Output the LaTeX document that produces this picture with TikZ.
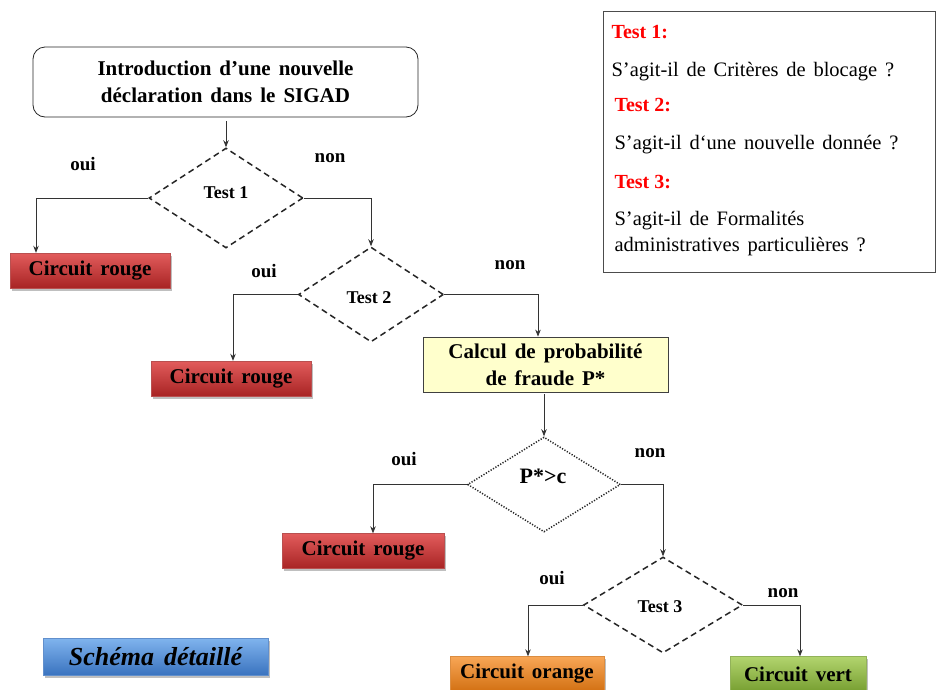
\documentclass[tikz,border=0pt]{standalone}
\usepackage{fontspec}
\setmainfont{Liberation Serif}
\usetikzlibrary{shapes.geometric,arrows.meta,shadows}

\definecolor{redT}{HTML}{E25C5C}
\definecolor{redM}{HTML}{CB3535}
\definecolor{redB}{HTML}{A82424}
\definecolor{oraT}{HTML}{F8A656}
\definecolor{oraM}{HTML}{EE8A27}
\definecolor{oraB}{HTML}{D27012}
\definecolor{grnT}{HTML}{B2D46E}
\definecolor{grnM}{HTML}{95BD4B}
\definecolor{grnB}{HTML}{779F31}
\definecolor{bluT}{HTML}{80B4EE}
\definecolor{bluM}{HTML}{5792DC}
\definecolor{bluB}{HTML}{3A73BF}
\definecolor{calcfill}{HTML}{FFFFCC}
\definecolor{linegrey}{HTML}{333333}

\newcommand\widespaces{\spaceskip=0.38em\relax}

\tikzset{
  txt/.style={font=\bfseries\fontsize{21}{27}\selectfont, align=center,
    execute at begin node=\widespaces},
  yesno/.style={font=\bfseries\fontsize{19}{21}\selectfont},
  testlbl/.style={font=\bfseries\fontsize{18}{20}\selectfont},
  conn/.style={draw=linegrey, line width=0.8pt},
  arr/.style={conn, -{Stealth[length=7pt,width=5.5pt]}},
  testbox/.style={diamond, draw=black!85, line width=1.5pt, dash pattern=on 6pt off 4pt, inner sep=0pt},
  dotbox/.style={diamond, draw=black!85, line width=1.5pt, dash pattern=on 1.2pt off 1.6pt, inner sep=0pt},
  circuit/.style={rectangle, txt, inner sep=0pt, minimum height=35pt,
    drop shadow={shadow xshift=1.5pt, shadow yshift=-2.5pt, fill=black, opacity=0.25}},
  rouge/.style={circuit, draw=redB!80, top color=redT, middle color=redM, bottom color=redB},
  orange/.style={circuit, draw=oraB!80, top color=oraT, middle color=oraM, bottom color=oraB},
  vert/.style={circuit, draw=grnB!80, top color=grnT, middle color=grnM, bottom color=grnB},
  legtitle/.style={anchor=west, text=red, font=\bfseries\fontsize{20}{24}\selectfont},
  legtext/.style={anchor=west, align=left, font=\fontsize{20.5}{26}\selectfont,
    execute at begin node=\widespaces},
}

\begin{document}
\begin{tikzpicture}[x=1pt, y=-1pt]
\useasboundingbox (0,0) rectangle (936,689);
\fill[white] (0,0) rectangle (936,689);

% start of the procedure
\node[txt, draw=black!85, line width=0.8pt, rounded corners=12pt,
      minimum width=385pt, minimum height=70pt] (intro) at (225.5,82)
  {Introduction d’une nouvelle\\déclaration dans le SIGAD};

% decision diamonds
\node[testbox, minimum width=154pt, minimum height=100pt] (t1) at (226,198) {};
\node[testlbl] (t1l) at (226,193) {Test 1};
\node[testbox, minimum width=145pt, minimum height=95pt] (t2) at (371,294.5) {};
\node[testlbl] (t2l) at (369,298) {Test 2};
\node[dotbox, minimum width=153pt, minimum height=95pt] (p) at (544,484.5) {};
\node[txt, font=\bfseries\fontsize{22}{26}\selectfont] (pl) at (543,476) {P*>c};
\node[testbox, minimum width=159pt, minimum height=96pt] (t3) at (663,605) {};
\node[testlbl] (t3l) at (660,607) {Test 3};

% probability computation
\node[txt, draw=black!75, line width=0.8pt, fill=calcfill,
      minimum width=245pt, minimum height=55pt] (calc) at (545.5,364.5)
  {Calcul de probabilité\\de fraude P*};

% resulting circuits
\node[rouge, minimum width=160pt] (cr1) at (90,270.5) {Circuit rouge};
\node[rouge, minimum width=160pt] (cr2) at (231,378.5) {Circuit rouge};
\node[rouge, minimum width=162pt] (cr3) at (363,551) {Circuit rouge};
\node[orange, minimum width=154pt] (co) at (527,674) {Circuit orange};
\node[vert, minimum width=136pt] (cv) at (798,674) {Circuit vert};

% title tag
\node[rectangle, draw=bluB!80, top color=bluT, middle color=bluM, bottom color=bluB,
      minimum width=225pt, minimum height=37pt, inner sep=0pt,
      drop shadow={shadow xshift=1.5pt, shadow yshift=-2.5pt, fill=black, opacity=0.25},
      font=\bfseries\itshape\fontsize{26}{30}\selectfont,
      execute at begin node=\widespaces] (title) at (155.5,656.5)
  {Schéma détaillé};

% legend of the three tests
\node[draw=black!70, line width=0.9pt, minimum width=332pt, minimum height=261pt,
      anchor=north west, inner sep=0pt] (legend) at (603,11) {};
\node[legtitle] (lt1) at (608,32) {Test 1:};
\node[legtext]  (lx1) at (608,72) {S’agit-il de Critères de blocage ?};
\node[legtitle] (lt2) at (611,105) {Test 2:};
\node[legtext]  (lx2) at (611,145) {S’agit-il d‘une nouvelle donnée ?};
\node[legtitle] (lt3) at (611,182) {Test 3:};
\node[legtext]  (lx3) at (611,234) {S’agit-il de Formalités\\administratives particulières ?};

% bend points of the connectors
\coordinate (k1) at (36,198);
\coordinate (k3) at (233,294.5);
\coordinate (k4) at (538,294.5);
\coordinate (k5) at (373,484.5);
\coordinate (k6) at (528,605);
\coordinate (k7) at (800,605);

% connectors
\draw[arr] ([yshift=-4pt]intro.south -| t1.north) -- (t1.north);
\draw[arr] (t1.west) -- (k1) -- (k1 |- cr1.north);
\draw[arr] (t1.east) -| (t2.north);
\draw[arr] (t2.west) -- (k3) -- (k3 |- cr2.north);
\draw[arr] (t2.east) -- (k4) -- (k4 |- calc.north);
\draw[arr] ([yshift=-2pt]calc.south -| p.north) -- (p.north);
\draw[arr] (p.west) -- (k5) -- (k5 |- cr3.north);
\draw[arr] (p.east) -| (t3.north);
\draw[arr] (t3.west) -- (k6) -- (k6 |- co.north);
\draw[arr] (t3.east) -- (k7) -- (k7 |- cv.north);

% branch labels
\node[yesno] (y1) at (83,164) {oui};
\node[yesno] (n1) at (330,158) {non};
\node[yesno] (y2) at (264,271) {oui};
\node[yesno] (n2) at (510,265) {non};
\node[yesno] (y3) at (404,459) {oui};
\node[yesno] (n3) at (650,453) {non};
\node[yesno] (y4) at (552,578) {oui};
\node[yesno] (n4) at (783,593) {non};
\end{tikzpicture}
\end{document}
